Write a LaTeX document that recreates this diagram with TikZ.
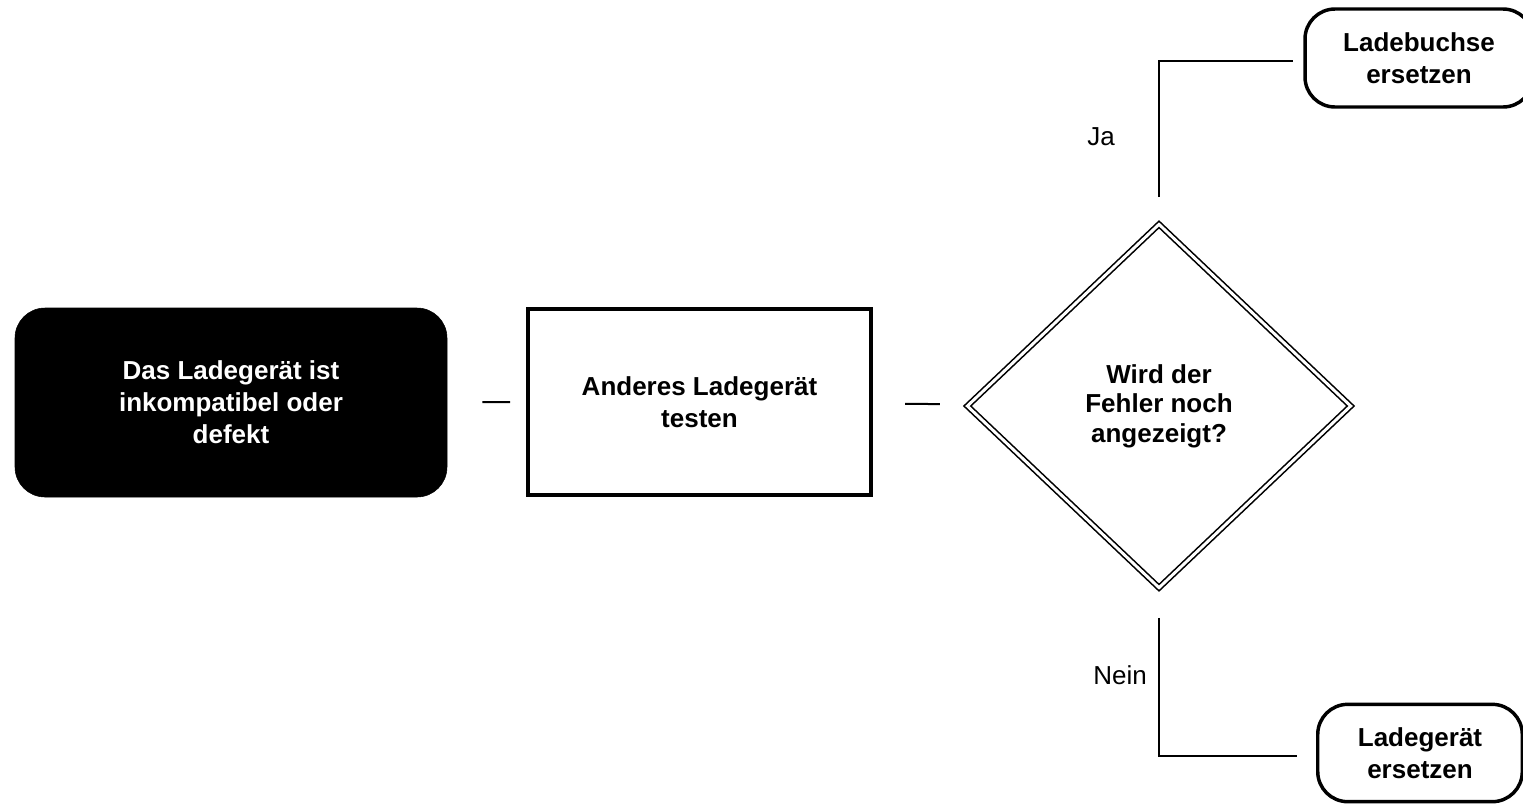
\documentclass[tikz,border=0pt]{standalone}
\usepackage{fontspec}
\setmainfont{Liberation Sans}
\usetikzlibrary{shapes.geometric}

\begin{document}
\begin{tikzpicture}[x=0.75pt,y=0.75pt,yscale=-1,xscale=1,
  boxtext/.style={font=\fontsize{19.5}{24}\selectfont\bfseries, align=center, inner sep=0.75pt},
  causebox/.style={boxtext, fill=black, draw=black, text=white, rounded corners=22.5pt},
  testbox/.style={boxtext, draw, line width=3pt},
  fixbox/.style={boxtext, draw, line width=2.6pt, rounded corners=22.5pt},
  decision/.style={boxtext, diamond, draw, double, line width=1.2pt, double distance=2.2pt,
    minimum width=288pt, minimum height=273pt, inner sep=0pt,
    font=\fontsize{19.5}{22}\selectfont\bfseries},
  link/.style={line width=1.5pt},
  answer/.style={font=\fontsize{19.5}{24}\selectfont, inner sep=0.75pt}]
\useasboundingbox (0,0) rectangle (1523,808);
\clip (0,0) rectangle (1523,808);

%Rounded Rect
\node (cause) [causebox, minimum width=324pt, minimum height=141.75pt] at (231,402.5) {Das Ladegerät ist\\inkompatibel oder\\defekt};
%Shape: Rectangle
\node (test) [testbox, minimum width=257.25pt, minimum height=139.5pt] at (699.5,402) {Anderes Ladegerät\\testen};
%Shape: Diamond
\node (ask) [decision] at (1159,406) {Wird der\\Fehler noch\\angezeigt?};
%Rounded Rect
\node (jack) [fixbox, minimum width=171pt, minimum height=73.5pt] at (1419,58) {Ladebuchse\\ersetzen};
%Rounded Rect
\node (charger) [fixbox, minimum width=153.4pt, minimum height=73pt] at (1420,753) {Ladegerät\\ersetzen};

%Straight Lines
\draw [link, shorten <=26.25pt, shorten >=12pt] (cause) -- (test);
%Straight Lines
\draw [link, shorten <=24pt, shorten >=21pt] (test) -- (ask);
%Straight Lines
\draw [link, shorten <=19.5pt, shorten >=7.5pt] (ask.north) |- ([yshift=2.25pt]jack.west);
%Straight Lines
\draw [link, shorten <=21.75pt, shorten >=14.25pt] (ask.south) |- ([yshift=2.25pt]charger.west);

% Text Node
\node (yes) [answer] at (1101,137) {Ja};
% Text Node
\node (no) [answer] at (1120,675) {Nein};

\end{tikzpicture}
\end{document}
